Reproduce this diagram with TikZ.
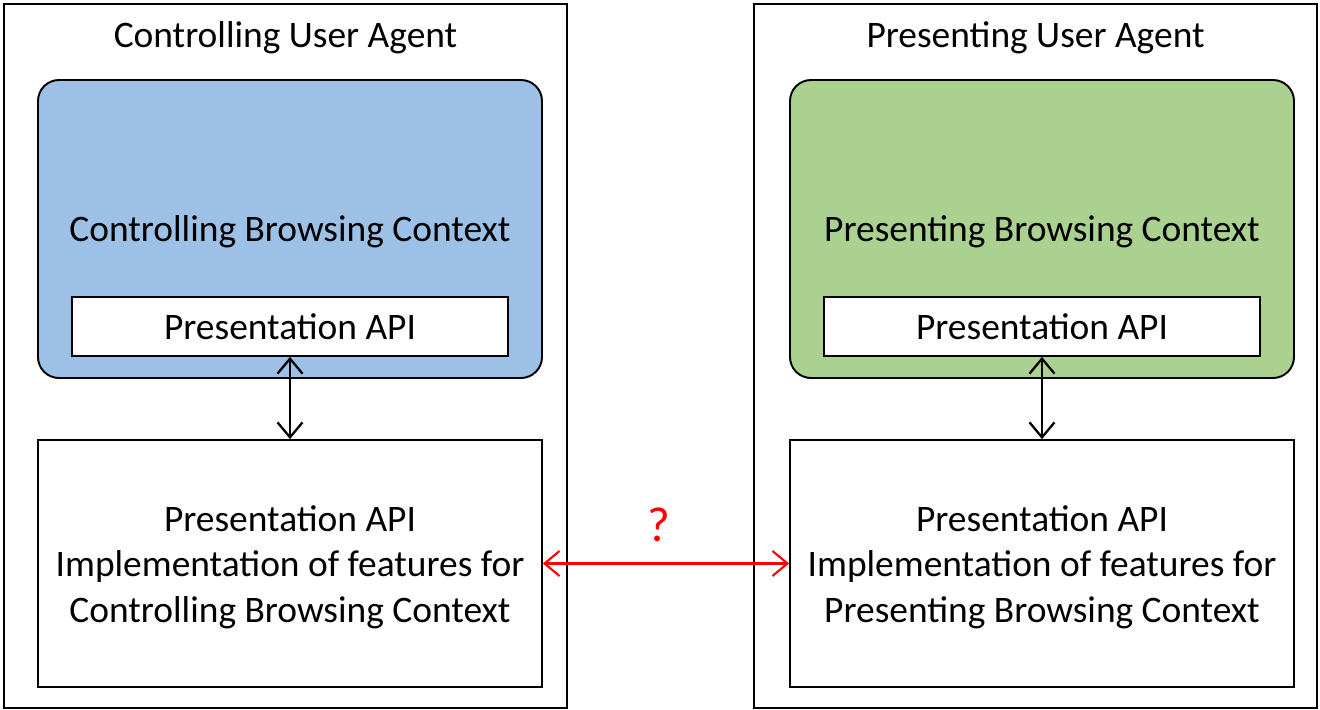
\documentclass[tikz,border=0pt]{standalone}
\usepackage{fontspec}
\setmainfont{Carlito}
\usepackage{tikz}
\usetikzlibrary{arrows.meta,positioning,calc}

\definecolor{ctxblue}{HTML}{9DC0E6}
\definecolor{ctxgreen}{HTML}{ABD190}

\begin{document}
\begin{tikzpicture}[semithick,
font=\fontsize{21.3}{26}\selectfont]
\tikzstyle{agent}=[rectangle, draw, line width=1.2pt, minimum width=11.26cm, minimum height=14.08cm]
\tikzstyle{context}=[rectangle, rounded corners=0.42cm, draw, line width=1.1pt, minimum width=10.08cm, minimum height=5.96cm]
\tikzstyle{api}=[rectangle, draw, fill=white, line width=1pt, minimum width=8.72cm, minimum height=1.18cm]
\tikzstyle{impl}=[rectangle, draw, line width=1pt, minimum width=10.08cm, minimum height=4.94cm]
\tikzstyle{impltext}=[align=center, yshift=-0.07cm]
\tikzstyle{link}=[{Straight Barb[length=3mm,width=5mm]}-{Straight Barb[length=3mm,width=5mm]}, line width=1.3pt]

\useasboundingbox (0,0) rectangle (26.4,-14.2);

% user agents
\node[agent] (CUA) at (5.71,-7.12) {};
\node[agent] (PUA) at (20.71,-7.12) {};
\node[below=0.25cm of CUA.north] (CUAt) {Controlling User Agent};
\node[below=0.25cm of PUA.north] (PUAt) {Presenting User Agent};

% browsing contexts
\node[context, fill=ctxblue] (CBC) at (5.8,-4.58) {};
\node[context, fill=ctxgreen] (PBC) at (20.84,-4.58) {};
\node[yshift=-0.06cm] (CBCt) at (CBC) {Controlling Browsing Context};
\node[yshift=-0.06cm] (PBCt) at (PBC) {Presenting Browsing Context};

\node[api] (CAPI) at (5.8,-6.53) {Presentation API};
\node[api] (PAPI) at (20.84,-6.53) {Presentation API};

% implementations
\node[impl] (CIMP) at (5.8,-11.27) {};
\node[impl] (PIMP) at (20.84,-11.27) {};
\node[impltext] (CIMPt) at (CIMP) {Presentation API\\Implementation of features for\\Controlling Browsing Context};
\node[impltext] (PIMPt) at (PIMP) {Presentation API\\Implementation of features for\\Presenting Browsing Context};

\draw[link] (CAPI) -- (CIMP);
\draw[link] (PAPI) -- (PIMP);

\draw[link, red, line width=1.2pt] (CIMP) -- node[above=0.3cm, xshift=-0.15cm, text=red, font=\fontsize{28}{30}\selectfont] {?} (PIMP);

\end{tikzpicture}
\end{document}
